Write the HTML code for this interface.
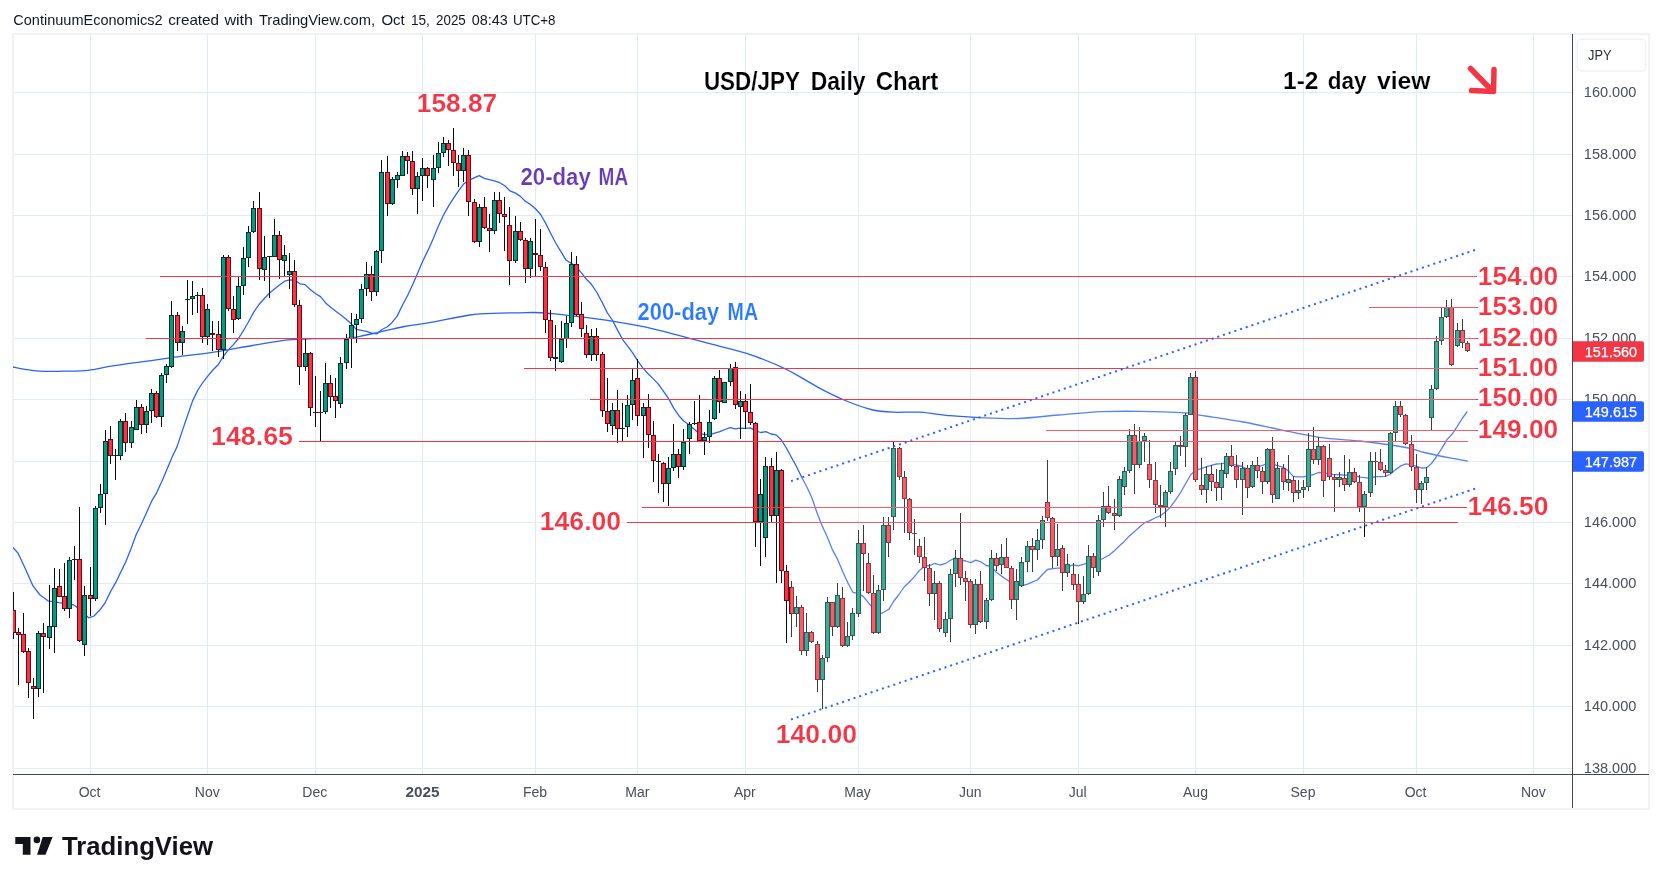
<!DOCTYPE html>
<html><head><meta charset="utf-8"><title>USD/JPY Daily Chart</title>
<style>
html,body{margin:0;padding:0;background:#fff;}
body{width:1662px;height:884px;position:relative;overflow:hidden;font-family:"Liberation Sans",sans-serif;}
svg{position:absolute;left:0;top:0;will-change:transform;}
text{font-family:"Liberation Sans",sans-serif;}
.ann{font-weight:bold;}
</style></head><body>
<svg width="1662" height="884" viewBox="0 0 1662 884">
<defs><clipPath id="pane"><rect x="13" y="34" width="1559" height="740"/></clipPath>
<clipPath id="axisclip"><rect x="1573" y="34" width="76" height="740"/></clipPath></defs>
<text x="13.3" y="24.8" font-size="14.6" fill="#131722" textLength="149.3" lengthAdjust="spacingAndGlyphs">ContinuumEconomics2</text>
<text x="168.2" y="24.8" font-size="14.6" fill="#131722" textLength="50.9" lengthAdjust="spacingAndGlyphs">created</text>
<text x="224.4" y="24.8" font-size="14.6" fill="#131722" textLength="28.6" lengthAdjust="spacingAndGlyphs">with</text>
<text x="258.9" y="24.8" font-size="14.6" fill="#131722" textLength="116.2" lengthAdjust="spacingAndGlyphs">TradingView.com,</text>
<text x="381.4" y="24.8" font-size="14.6" fill="#131722" textLength="23.3" lengthAdjust="spacingAndGlyphs">Oct</text>
<text x="411.0" y="24.8" font-size="14.6" fill="#131722" textLength="18.9" lengthAdjust="spacingAndGlyphs">15,</text>
<text x="436.1" y="24.8" font-size="14.6" fill="#131722" textLength="29.7" lengthAdjust="spacingAndGlyphs">2025</text>
<text x="471.7" y="24.8" font-size="14.6" fill="#131722" textLength="36.0" lengthAdjust="spacingAndGlyphs">08:43</text>
<text x="512.9" y="24.8" font-size="14.6" fill="#131722" textLength="42.6" lengthAdjust="spacingAndGlyphs">UTC+8</text>
<rect x="13" y="34" width="1636" height="775" fill="#fff" stroke="#f1f2f4" stroke-width="2"/>
<g stroke="#e1ebf3" stroke-width="1" shape-rendering="crispEdges">
<line x1="13" x2="1572" y1="768.5" y2="768.5"/>
<line x1="13" x2="1572" y1="706.5" y2="706.5"/>
<line x1="13" x2="1572" y1="645.5" y2="645.5"/>
<line x1="13" x2="1572" y1="583.5" y2="583.5"/>
<line x1="13" x2="1572" y1="522.5" y2="522.5"/>
<line x1="13" x2="1572" y1="461.5" y2="461.5"/>
<line x1="13" x2="1572" y1="399.5" y2="399.5"/>
<line x1="13" x2="1572" y1="338.5" y2="338.5"/>
<line x1="13" x2="1572" y1="276.5" y2="276.5"/>
<line x1="13" x2="1572" y1="215.5" y2="215.5"/>
<line x1="13" x2="1572" y1="154.5" y2="154.5"/>
<line x1="13" x2="1572" y1="92.5" y2="92.5"/>
<line x1="90.5" x2="90.5" y1="34" y2="774"/>
<line x1="207.5" x2="207.5" y1="34" y2="774"/>
<line x1="315.5" x2="315.5" y1="34" y2="774"/>
<line x1="422.5" x2="422.5" y1="34" y2="774"/>
<line x1="535.5" x2="535.5" y1="34" y2="774"/>
<line x1="637.5" x2="637.5" y1="34" y2="774"/>
<line x1="745.5" x2="745.5" y1="34" y2="774"/>
<line x1="858.5" x2="858.5" y1="34" y2="774"/>
<line x1="970.5" x2="970.5" y1="34" y2="774"/>
<line x1="1078.5" x2="1078.5" y1="34" y2="774"/>
<line x1="1195.5" x2="1195.5" y1="34" y2="774"/>
<line x1="1303.5" x2="1303.5" y1="34" y2="774"/>
<line x1="1416.5" x2="1416.5" y1="34" y2="774"/>
<line x1="1533.5" x2="1533.5" y1="34" y2="774"/>
</g>
<g clip-path="url(#pane)">
<path d="M13.0 367.0 C15.0 367.4 20.0 368.6 25.0 369.3 C30.0 370.0 36.2 371.0 42.9 371.3 C49.6 371.6 57.4 371.4 65.0 371.2 C72.6 371.0 80.6 371.1 88.3 370.3 C96.0 369.5 102.2 367.6 111.0 366.2 C119.8 364.8 131.3 363.3 141.4 361.9 C151.5 360.5 159.9 359.2 171.7 357.6 C183.5 356.0 198.7 354.3 212.2 352.3 C225.7 350.3 240.0 347.6 252.6 345.5 C265.2 343.4 277.9 341.0 288.0 339.9 C298.1 338.8 303.6 338.9 313.3 338.7 C323.0 338.4 338.3 338.8 346.1 338.4 C353.9 338.0 354.9 337.2 360.0 336.3 C365.1 335.4 369.0 334.5 376.4 332.9 C383.8 331.3 395.3 328.2 404.2 326.5 C413.1 324.8 418.5 324.6 429.5 322.7 C440.5 320.8 458.2 316.6 470.0 315.0 C481.8 313.4 491.7 313.6 500.0 313.2 C508.3 312.8 514.4 312.9 520.0 312.8 C525.6 312.7 528.4 312.4 533.4 312.5 C538.4 312.6 543.6 312.9 550.0 313.5 C556.4 314.1 561.2 314.5 571.5 315.8 C581.8 317.1 598.4 319.0 612.0 321.2 C625.6 323.4 638.9 325.6 653.0 328.8 C667.1 332.0 683.6 336.9 696.4 340.2 C709.2 343.5 720.4 346.3 730.0 348.9 C739.6 351.5 744.4 352.4 753.8 355.8 C763.2 359.2 775.4 364.0 786.4 369.4 C797.4 374.8 810.4 383.3 820.0 388.4 C829.6 393.5 835.5 396.5 844.0 400.0 C852.5 403.5 862.8 407.5 871.0 409.5 C879.2 411.5 884.8 411.8 893.0 412.2 C901.2 412.6 910.5 411.6 920.0 412.2 C929.5 412.8 940.0 414.8 950.0 415.7 C960.0 416.6 968.7 417.1 980.0 417.6 C991.3 418.1 1004.9 418.9 1018.0 418.5 C1031.1 418.1 1044.6 416.1 1058.6 415.0 C1072.6 413.9 1088.4 412.3 1102.0 411.7 C1115.6 411.1 1125.3 411.1 1140.0 411.4 C1154.7 411.6 1180.5 412.7 1190.0 413.2 C1199.5 413.7 1188.1 413.1 1197.0 414.6 C1205.9 416.1 1229.7 419.6 1243.3 422.0 C1256.9 424.4 1265.9 426.7 1278.6 429.3 C1291.3 431.9 1305.7 435.4 1319.3 437.4 C1332.9 439.3 1348.7 439.8 1360.0 441.0 C1371.3 442.2 1378.9 443.3 1387.2 444.5 C1395.5 445.7 1403.8 447.0 1410.0 448.3 C1416.2 449.6 1417.4 450.9 1424.3 452.5 C1431.2 454.1 1444.3 456.8 1451.5 458.2 C1458.7 459.6 1465.0 460.5 1467.7 461.0" fill="none" stroke="#2962ff" stroke-width="1.3"/>
<path d="M12.7 547.3 L18.1 553.3 L25.0 568.0 L33.0 585.9 L40.0 595.0 L48.0 600.8 L58.9 602.7 L73.8 604.9 L82.0 611.0 L88.7 617.9 L94.0 616.0 L99.6 610.3 L105.0 603.0 L110.5 591.6 L115.7 582.7 L120.8 572.0 L125.9 561.6 L131.0 548.8 L136.1 534.8 L141.3 524.3 L146.4 513.0 L151.5 501.4 L156.6 492.8 L161.7 481.7 L166.9 469.6 L172.0 457.3 L177.1 446.6 L182.2 431.1 L187.3 416.3 L192.5 401.1 L197.6 390.5 L202.7 382.7 L207.8 376.1 L212.9 370.0 L218.1 364.8 L223.2 356.6 L228.3 349.9 L233.4 344.6 L238.5 338.5 L243.7 330.2 L248.8 321.2 L253.9 311.9 L259.0 304.5 L264.1 298.7 L269.3 293.2 L274.4 289.1 L279.5 285.0 L284.6 281.2 L289.7 279.8 L294.9 280.2 L300.0 283.8 L305.1 284.6 L310.2 289.5 L315.3 293.5 L320.5 296.6 L325.6 302.9 L330.7 307.2 L335.8 311.3 L340.9 315.1 L346.1 319.2 L351.2 323.8 L356.3 329.4 L361.4 330.4 L366.5 331.3 L371.7 333.1 L376.8 333.9 L381.9 329.5 L387.0 327.0 L392.1 322.4 L397.3 315.9 L402.4 305.3 L407.5 295.7 L412.6 284.8 L417.7 272.9 L422.9 260.7 L428.0 250.4 L433.1 238.9 L438.2 226.5 L443.3 215.5 L448.5 206.1 L453.6 198.1 L458.7 190.6 L463.8 183.9 L468.9 180.3 L474.1 177.8 L479.2 175.6 L484.3 178.4 L489.4 179.7 L494.5 180.8 L499.7 182.7 L504.8 185.8 L509.9 190.8 L515.0 192.9 L520.1 196.1 L525.3 201.2 L530.4 204.4 L535.5 208.8 L540.6 214.5 L545.7 223.4 L550.9 233.8 L556.0 243.5 L561.1 251.9 L566.2 260.3 L571.3 263.4 L576.5 267.1 L581.6 273.2 L586.7 279.5 L591.8 284.8 L596.9 292.5 L602.1 302.3 L607.2 312.6 L612.3 320.0 L617.4 329.9 L622.5 339.3 L627.7 346.2 L632.8 353.1 L637.9 361.1 L643.0 368.1 L648.1 373.8 L653.3 378.9 L658.4 384.1 L663.5 391.4 L668.6 398.6 L673.7 408.1 L678.9 415.7 L684.0 421.3 L689.1 424.8 L694.2 429.2 L699.3 433.4 L704.5 434.7 L709.6 434.6 L714.7 433.1 L719.8 431.7 L724.9 429.5 L730.1 427.6 L735.2 428.8 L740.3 428.1 L745.4 428.4 L750.5 427.9 L755.7 430.9 L760.8 432.5 L765.9 431.7 L771.0 434.0 L776.1 434.9 L781.3 440.0 L786.4 448.0 L791.5 457.5 L796.6 466.7 L801.7 477.2 L806.9 487.0 L812.0 498.0 L817.1 513.1 L822.2 525.9 L827.3 536.9 L832.5 549.9 L837.6 559.4 L842.7 571.6 L847.8 582.8 L852.9 592.3 L858.1 593.4 L863.2 596.4 L868.3 602.7 L873.4 608.6 L878.5 614.5 L883.7 612.3 L888.8 609.3 L893.9 601.0 L899.0 594.5 L904.1 587.0 L909.3 582.0 L914.4 576.6 L919.5 570.4 L924.6 565.9 L929.7 565.5 L934.9 563.3 L940.0 565.0 L945.1 563.7 L950.2 560.5 L955.3 557.8 L960.5 559.6 L965.6 561.0 L970.7 562.6 L975.8 560.1 L980.9 561.8 L986.1 565.5 L991.2 566.3 L996.3 572.2 L1001.4 576.1 L1006.5 579.5 L1011.7 582.9 L1016.8 585.2 L1021.9 585.5 L1027.0 584.4 L1032.1 582.1 L1037.3 580.0 L1042.4 574.5 L1047.5 569.5 L1052.6 568.6 L1057.7 568.1 L1062.9 567.9 L1068.0 566.9 L1073.1 564.9 L1078.2 565.8 L1083.3 564.4 L1088.5 562.3 L1093.6 562.8 L1098.7 560.5 L1103.8 558.0 L1108.9 555.3 L1114.1 551.1 L1119.2 546.0 L1124.3 541.4 L1129.4 535.9 L1134.5 531.6 L1139.7 526.7 L1144.8 522.5 L1149.9 520.6 L1155.0 518.0 L1160.1 515.9 L1165.3 511.9 L1170.4 507.2 L1175.5 500.2 L1180.6 492.5 L1185.7 483.5 L1190.9 474.5 L1196.0 470.1 L1201.1 468.6 L1206.2 466.9 L1211.3 465.4 L1216.5 464.0 L1221.6 463.6 L1226.7 462.8 L1231.8 464.4 L1236.9 465.1 L1242.1 466.5 L1247.2 469.1 L1252.3 468.3 L1257.4 466.7 L1262.5 465.4 L1267.7 463.3 L1272.8 464.5 L1277.9 465.7 L1283.0 467.4 L1288.1 470.6 L1293.3 476.4 L1298.4 476.9 L1303.5 476.8 L1308.6 475.6 L1313.7 474.5 L1318.9 472.4 L1324.0 472.9 L1329.1 473.9 L1334.2 474.7 L1339.3 474.5 L1344.5 475.3 L1349.6 474.5 L1354.7 475.3 L1359.8 477.1 L1364.9 477.7 L1370.1 478.3 L1375.2 476.7 L1380.3 476.7 L1385.4 476.3 L1390.5 474.0 L1395.7 469.6 L1400.8 465.9 L1405.9 463.8 L1411.0 464.7 L1416.1 466.2 L1421.3 468.0 L1426.4 467.9 L1431.5 463.5 L1436.6 456.5 L1441.7 448.6 L1446.9 439.6 L1452.0 434.3 L1457.1 426.7 L1462.2 418.5 L1467.3 411.4" fill="none" stroke="#2962ff" stroke-width="1.3" stroke-linejoin="round"/>
<path d="M13.5 592 V639M18.5 628 V685M23.5 613 V653M28.5 648 V698M33.5 678 V719M38.5 631 V697M43.5 623 V693M49.5 585 V649M54.5 568 V653M59.5 569 V597M64.5 563 V611M69.5 557 V618M74.5 546 V580M79.5 507 V642M84.5 586 V656M90.5 567 V616M95.5 506 V601M100.5 484 V513M105.5 430 V525M110.5 426 V464M115.5 449 V480M120.5 419 V460M125.5 413 V452M131.5 421 V448M136.5 400 V430M141.5 404 V434M146.5 406 V433M151.5 389 V423M156.5 391 V418M161.5 373 V427M166.5 364 V383M171.5 301 V368M177.5 312 V351M182.5 326 V355M187.5 280 V324M192.5 281 V315M197.5 292 V313M202.5 288 V343M207.5 304 V345M212.5 321 V351M218.5 321 V357M223.5 255 V359M228.5 255 V311M233.5 296 V333M238.5 277 V320M243.5 247 V295M248.5 226 V267M253.5 201 V233M259.5 192 V280M264.5 236 V281M269.5 256 V298M274.5 219 V257M279.5 231 V279M284.5 245 V277M289.5 253 V289M294.5 260 V307M299.5 300 V385M305.5 339 V371M310.5 352 V416M315.5 376 V427M320.5 391 V441M325.5 363 V414M330.5 375 V408M335.5 378 V418M340.5 357 V408M346.5 334 V369M351.5 313 V368M356.5 314 V343M361.5 284 V323M366.5 262 V296M371.5 266 V301M376.5 250 V296M381.5 160 V263M387.5 156 V216M392.5 177 V205M397.5 172 V188M402.5 151 V176M407.5 152 V174M412.5 151 V195M417.5 172 V214M422.5 158 V201M427.5 167 V188M433.5 155 V207M438.5 142 V173M443.5 137 V157M448.5 140 V166M453.5 128 V176M458.5 155 V187M463.5 148 V182M468.5 150 V216M474.5 199 V243M479.5 204 V247M484.5 197 V229M489.5 214 V252M494.5 192 V234M499.5 192 V223M504.5 197 V251M509.5 207 V285M515.5 216 V263M520.5 222 V241M525.5 238 V283M530.5 238 V278M535.5 219 V276M540.5 229 V271M545.5 262 V333M550.5 310 V361M555.5 325 V371M561.5 321 V363M566.5 316 V348M571.5 252 V327M576.5 256 V316M581.5 302 V337M586.5 325 V358M591.5 329 V361M596.5 328 V361M602.5 352 V417M607.5 378 V432M612.5 403 V435M617.5 390 V443M622.5 403 V441M627.5 395 V437M632.5 369 V420M637.5 359 V426M643.5 403 V458M648.5 394 V448M653.5 421 V482M658.5 454 V493M663.5 462 V502M668.5 457 V506M673.5 424 V471M678.5 449 V478M683.5 429 V470M689.5 422 V454M694.5 401 V425M699.5 395 V441M704.5 432 V455M709.5 410 V443M714.5 376 V420M719.5 370 V413M724.5 382 V403M730.5 364 V386M735.5 362 V409M740.5 391 V439M745.5 394 V429M750.5 384 V425M755.5 422 V547M760.5 479 V566M765.5 457 V557M771.5 458 V522M776.5 452 V583M781.5 469 V583M786.5 565 V643M791.5 581 V637M796.5 596 V627M801.5 605 V655M806.5 613 V656M811.5 631 V643M817.5 641 V692M822.5 655 V709M827.5 597 V662M832.5 602 V636M837.5 583 V628M842.5 587 V647M847.5 622 V647M852.5 608 V640M858.5 530 V617M863.5 525 V591M868.5 553 V594M873.5 575 V634M878.5 585 V634M883.5 517 V601M888.5 517 V557M893.5 442 V530M899.5 447 V480M904.5 471 V533M909.5 498 V540M914.5 519 V555M919.5 539 V563M924.5 537 V581M929.5 564 V606M934.5 571 V620M939.5 581 V632M945.5 612 V637M950.5 569 V642M955.5 550 V587M960.5 513 V585M965.5 571 V601M970.5 579 V628M975.5 579 V634M980.5 571 V623M986.5 598 V629M991.5 550 V601M996.5 553 V571M1001.5 544 V574M1006.5 538 V568M1011.5 566 V609M1016.5 569 V620M1021.5 557 V587M1027.5 541 V572M1032.5 538 V572M1037.5 529 V560M1042.5 516 V549M1047.5 460 V521M1052.5 517 V568M1057.5 524 V566M1062.5 545 V591M1067.5 554 V577M1073.5 563 V590M1078.5 574 V624M1083.5 576 V604M1088.5 545 V595M1093.5 553 V578M1098.5 515 V576M1103.5 492 V527M1108.5 486 V514M1114.5 499 V530M1119.5 476 V517M1124.5 467 V495M1129.5 429 V473M1134.5 424 V494M1139.5 427 V468M1144.5 433 V462M1149.5 440 V488M1155.5 462 V513M1160.5 485 V518M1165.5 490 V527M1170.5 462 V494M1175.5 442 V475M1180.5 436 V456M1185.5 413 V467M1190.5 373 V415M1195.5 371 V482M1201.5 458 V495M1206.5 466 V503M1211.5 465 V491M1216.5 469 V501M1221.5 463 V500M1226.5 453 V478M1231.5 445 V467M1236.5 455 V488M1242.5 462 V515M1247.5 465 V498M1252.5 461 V488M1257.5 457 V478M1262.5 467 V494M1267.5 448 V484M1272.5 437 V503M1277.5 462 V499M1283.5 464 V490M1288.5 455 V491M1293.5 476 V502M1298.5 480 V499M1303.5 480 V498M1308.5 433 V491M1313.5 427 V464M1318.5 437 V465M1323.5 445 V497M1329.5 444 V480M1334.5 474 V512M1339.5 472 V487M1344.5 455 V491M1349.5 459 V487M1354.5 468 V483M1359.5 475 V512M1364.5 491 V537M1370.5 452 V497M1375.5 452 V485M1380.5 449 V471M1385.5 465 V477M1390.5 432 V474M1395.5 401 V442M1400.5 401 V417M1405.5 414 V445M1411.5 435 V471M1416.5 454 V503M1421.5 481 V504M1426.5 467 V490M1431.5 385 V430M1436.5 336 V390M1441.5 307 V345M1446.5 300 V318M1451.5 299 V366M1457.5 323 V347M1462.5 319 V348M1467.5 341 V352" stroke="#0a0a0a" stroke-width="1" fill="none" shape-rendering="crispEdges"/>
<path d="M36 633h5v56h-5zM47 626h5v12h-5zM52 588h5v39h-5zM67 560h5v49h-5zM72 559h5v1h-5zM82 595h5v50h-5zM93 508h5v91h-5zM98 494h5v14h-5zM103 441h5v53h-5zM113 455h5v1h-5zM118 421h5v35h-5zM129 427h5v16h-5zM134 407h5v23h-5zM144 411h5v14h-5zM149 393h5v18h-5zM159 375h5v42h-5zM164 366h5v9h-5zM169 315h5v52h-5zM180 331h5v12h-5zM185 299h5v1h-5zM190 296h5v3h-5zM195 295h5v1h-5zM205 309h5v28h-5zM221 257h5v93h-5zM236 286h5v33h-5zM241 258h5v28h-5zM246 232h5v26h-5zM251 208h5v24h-5zM262 257h5v13h-5zM267 256h5v1h-5zM272 235h5v22h-5zM282 255h5v6h-5zM287 271h5v4h-5zM303 353h5v14h-5zM323 383h5v29h-5zM338 363h5v41h-5zM344 339h5v24h-5zM349 325h5v14h-5zM354 319h5v6h-5zM359 289h5v30h-5zM364 274h5v15h-5zM374 251h5v41h-5zM379 172h5v79h-5zM390 179h5v25h-5zM395 175h5v5h-5zM400 156h5v20h-5zM415 176h5v13h-5zM420 168h5v8h-5zM431 168h5v12h-5zM436 153h5v15h-5zM441 143h5v10h-5zM461 155h5v16h-5zM477 207h5v35h-5zM492 200h5v31h-5zM513 231h5v30h-5zM528 241h5v28h-5zM553 357h5v2h-5zM559 339h5v23h-5zM564 323h5v16h-5zM569 264h5v59h-5zM589 336h5v19h-5zM610 410h5v16h-5zM620 428h5v1h-5zM625 405h5v22h-5zM630 380h5v25h-5zM641 407h5v9h-5zM656 461h5v1h-5zM666 468h5v16h-5zM671 454h5v14h-5zM681 442h5v25h-5zM687 424h5v15h-5zM692 423h5v1h-5zM702 437h5v4h-5zM707 422h5v15h-5zM712 378h5v41h-5zM722 382h5v21h-5zM728 368h5v14h-5zM738 401h5v6h-5zM758 494h5v28h-5zM763 466h5v72h-5zM774 470h5v46h-5zM794 607h5v7h-5zM804 632h5v19h-5zM820 658h5v22h-5zM825 602h5v56h-5zM835 595h5v32h-5zM845 636h5v10h-5zM850 613h5v23h-5zM856 543h5v71h-5zM876 590h5v43h-5zM881 525h5v65h-5zM891 448h5v69h-5zM932 583h5v11h-5zM943 619h5v14h-5zM948 574h5v45h-5zM953 558h5v16h-5zM973 584h5v41h-5zM984 600h5v22h-5zM989 558h5v42h-5zM999 557h5v8h-5zM1014 581h5v19h-5zM1019 562h5v24h-5zM1025 546h5v16h-5zM1035 540h5v10h-5zM1040 520h5v20h-5zM1055 549h5v8h-5zM1065 564h5v9h-5zM1081 594h5v8h-5zM1086 556h5v38h-5zM1096 520h5v52h-5zM1101 506h5v14h-5zM1117 479h5v37h-5zM1122 471h5v16h-5zM1127 435h5v36h-5zM1137 441h5v24h-5zM1142 436h5v5h-5zM1163 492h5v15h-5zM1168 471h5v21h-5zM1173 445h5v24h-5zM1183 415h5v32h-5zM1188 377h5v38h-5zM1204 474h5v16h-5zM1219 470h5v18h-5zM1224 456h5v18h-5zM1240 468h5v12h-5zM1250 465h5v22h-5zM1265 449h5v33h-5zM1275 468h5v31h-5zM1286 479h5v4h-5zM1296 490h5v3h-5zM1301 487h5v3h-5zM1306 449h5v38h-5zM1316 446h5v14h-5zM1337 477h5v3h-5zM1347 472h5v13h-5zM1362 494h5v13h-5zM1368 461h5v32h-5zM1388 433h5v40h-5zM1393 406h5v27h-5zM1419 483h5v7h-5zM1424 477h5v6h-5zM1429 389h5v29h-5zM1434 341h5v48h-5zM1439 317h5v24h-5zM1444 307h5v10h-5zM1455 330h5v16h-5z" fill="#03302a" shape-rendering="crispEdges"/>
<path d="M11 610h5v23h-5zM16 632h5v3h-5zM21 634h5v18h-5zM26 651h5v32h-5zM31 686h5v3h-5zM41 633h5v4h-5zM57 586h5v11h-5zM62 596h5v13h-5zM77 559h5v82h-5zM88 595h5v4h-5zM108 439h5v17h-5zM123 421h5v22h-5zM139 407h5v18h-5zM154 393h5v24h-5zM175 315h5v28h-5zM200 295h5v42h-5zM210 333h5v2h-5zM216 334h5v16h-5zM226 257h5v52h-5zM231 309h5v11h-5zM257 208h5v61h-5zM277 235h5v25h-5zM292 271h5v34h-5zM297 305h5v62h-5zM308 353h5v55h-5zM313 412h5v1h-5zM318 412h5v1h-5zM328 383h5v14h-5zM333 396h5v5h-5zM369 274h5v18h-5zM385 172h5v32h-5zM405 156h5v5h-5zM410 161h5v28h-5zM425 168h5v8h-5zM446 143h5v7h-5zM451 150h5v13h-5zM456 163h5v8h-5zM466 155h5v47h-5zM472 202h5v40h-5zM482 207h5v21h-5zM487 228h5v3h-5zM497 200h5v14h-5zM502 214h5v3h-5zM507 225h5v36h-5zM518 231h5v9h-5zM523 240h5v29h-5zM533 253h5v2h-5zM538 255h5v12h-5zM543 267h5v53h-5zM548 320h5v38h-5zM574 264h5v51h-5zM579 314h5v15h-5zM584 333h5v22h-5zM594 336h5v19h-5zM600 354h5v57h-5zM605 411h5v13h-5zM615 410h5v19h-5zM635 378h5v38h-5zM646 407h5v28h-5zM651 435h5v26h-5zM661 463h5v21h-5zM676 454h5v13h-5zM697 422h5v19h-5zM717 378h5v24h-5zM733 367h5v38h-5zM743 401h5v11h-5zM748 412h5v11h-5zM753 423h5v99h-5zM769 466h5v50h-5zM779 470h5v101h-5zM784 571h5v30h-5zM789 587h5v27h-5zM799 607h5v44h-5zM809 632h5v10h-5zM815 644h5v36h-5zM830 602h5v25h-5zM840 598h5v48h-5zM861 543h5v11h-5zM866 563h5v30h-5zM871 593h5v40h-5zM886 525h5v18h-5zM897 448h5v29h-5zM902 477h5v22h-5zM907 499h5v34h-5zM912 533h5v1h-5zM917 546h5v11h-5zM922 557h5v11h-5zM927 568h5v26h-5zM937 583h5v46h-5zM958 558h5v20h-5zM963 578h5v4h-5zM968 581h5v44h-5zM978 584h5v38h-5zM994 558h5v8h-5zM1004 557h5v11h-5zM1009 568h5v32h-5zM1030 546h5v4h-5zM1045 502h5v16h-5zM1050 518h5v39h-5zM1060 548h5v25h-5zM1071 574h5v11h-5zM1076 584h5v18h-5zM1091 556h5v12h-5zM1106 506h5v7h-5zM1112 513h5v3h-5zM1132 435h5v30h-5zM1147 464h5v16h-5zM1153 480h5v25h-5zM1158 505h5v2h-5zM1178 445h5v2h-5zM1193 377h5v103h-5zM1199 485h5v5h-5zM1209 474h5v8h-5zM1214 482h5v6h-5zM1229 456h5v10h-5zM1234 466h5v14h-5zM1245 468h5v20h-5zM1255 465h5v6h-5zM1260 471h5v11h-5zM1270 449h5v46h-5zM1281 468h5v14h-5zM1291 480h5v13h-5zM1311 449h5v11h-5zM1321 446h5v35h-5zM1327 458h5v19h-5zM1332 477h5v3h-5zM1342 478h5v7h-5zM1352 472h5v10h-5zM1357 482h5v25h-5zM1373 461h5v1h-5zM1378 462h5v8h-5zM1383 470h5v3h-5zM1398 406h5v9h-5zM1403 415h5v29h-5zM1409 444h5v23h-5zM1414 467h5v23h-5zM1449 307h5v58h-5zM1460 330h5v13h-5zM1465 343h5v8h-5z" fill="#6e0914" shape-rendering="crispEdges"/>
<path d="M37 634h3v54h-3zM48 627h3v10h-3zM53 589h3v37h-3zM68 561h3v47h-3zM83 596h3v48h-3zM94 509h3v89h-3zM99 495h3v12h-3zM104 442h3v51h-3zM119 422h3v33h-3zM130 428h3v14h-3zM135 408h3v21h-3zM145 412h3v12h-3zM150 394h3v16h-3zM160 376h3v40h-3zM165 367h3v7h-3zM170 316h3v50h-3zM181 332h3v10h-3zM191 297h3v1h-3zM206 310h3v26h-3zM222 258h3v91h-3zM237 287h3v31h-3zM242 259h3v26h-3zM247 233h3v24h-3zM252 209h3v22h-3zM263 258h3v11h-3zM273 236h3v20h-3zM283 256h3v4h-3zM288 272h3v2h-3zM304 354h3v12h-3zM324 384h3v27h-3zM339 364h3v39h-3zM345 340h3v22h-3zM350 326h3v12h-3zM355 320h3v4h-3zM360 290h3v28h-3zM365 275h3v13h-3zM375 252h3v39h-3zM380 173h3v77h-3zM391 180h3v23h-3zM396 176h3v3h-3zM401 157h3v18h-3zM416 177h3v11h-3zM421 169h3v6h-3zM432 169h3v10h-3zM437 154h3v13h-3zM442 144h3v8h-3zM462 156h3v14h-3zM478 208h3v33h-3zM493 201h3v29h-3zM514 232h3v28h-3zM529 242h3v26h-3zM560 340h3v21h-3zM565 324h3v14h-3zM570 265h3v57h-3zM590 337h3v17h-3zM611 411h3v14h-3zM626 406h3v20h-3zM631 381h3v23h-3zM642 408h3v7h-3zM667 469h3v14h-3zM672 455h3v12h-3zM682 443h3v23h-3zM688 425h3v13h-3zM703 438h3v2h-3zM708 423h3v13h-3zM713 379h3v39h-3zM723 383h3v19h-3zM729 369h3v12h-3zM739 402h3v4h-3zM759 495h3v26h-3zM764 467h3v70h-3zM775 471h3v44h-3zM795 608h3v5h-3zM805 633h3v17h-3zM821 659h3v20h-3zM826 603h3v54h-3zM836 596h3v30h-3zM846 637h3v8h-3zM851 614h3v21h-3zM857 544h3v69h-3zM877 591h3v41h-3zM882 526h3v63h-3zM892 449h3v67h-3zM933 584h3v9h-3zM944 620h3v12h-3zM949 575h3v43h-3zM954 559h3v14h-3zM974 585h3v39h-3zM985 601h3v20h-3zM990 559h3v40h-3zM1000 558h3v6h-3zM1015 582h3v17h-3zM1020 563h3v22h-3zM1026 547h3v14h-3zM1036 541h3v8h-3zM1041 521h3v18h-3zM1056 550h3v6h-3zM1066 565h3v7h-3zM1082 595h3v6h-3zM1087 557h3v36h-3zM1097 521h3v50h-3zM1102 507h3v12h-3zM1118 480h3v35h-3zM1123 472h3v14h-3zM1128 436h3v34h-3zM1138 442h3v22h-3zM1143 437h3v3h-3zM1164 493h3v13h-3zM1169 472h3v19h-3zM1174 446h3v22h-3zM1184 416h3v30h-3zM1189 378h3v36h-3zM1205 475h3v14h-3zM1220 471h3v16h-3zM1225 457h3v16h-3zM1241 469h3v10h-3zM1251 466h3v20h-3zM1266 450h3v31h-3zM1276 469h3v29h-3zM1287 480h3v2h-3zM1297 491h3v1h-3zM1302 488h3v1h-3zM1307 450h3v36h-3zM1317 447h3v12h-3zM1338 478h3v1h-3zM1348 473h3v11h-3zM1363 495h3v11h-3zM1369 462h3v30h-3zM1389 434h3v38h-3zM1394 407h3v25h-3zM1420 484h3v5h-3zM1425 478h3v4h-3zM1430 390h3v27h-3zM1435 342h3v46h-3zM1440 318h3v22h-3zM1445 308h3v8h-3zM1456 331h3v14h-3z" fill="#089981" shape-rendering="crispEdges"/>
<path d="M12 611h3v21h-3zM17 633h3v1h-3zM22 635h3v16h-3zM27 652h3v30h-3zM32 687h3v1h-3zM42 634h3v2h-3zM58 587h3v9h-3zM63 597h3v11h-3zM78 560h3v80h-3zM89 596h3v2h-3zM109 440h3v15h-3zM124 422h3v20h-3zM140 408h3v16h-3zM155 394h3v22h-3zM176 316h3v26h-3zM201 296h3v40h-3zM217 335h3v14h-3zM227 258h3v50h-3zM232 310h3v9h-3zM258 209h3v59h-3zM278 236h3v23h-3zM293 272h3v32h-3zM298 306h3v60h-3zM309 354h3v53h-3zM329 384h3v12h-3zM334 397h3v3h-3zM370 275h3v16h-3zM386 173h3v30h-3zM406 157h3v3h-3zM411 162h3v26h-3zM426 169h3v6h-3zM447 144h3v5h-3zM452 151h3v11h-3zM457 164h3v6h-3zM467 156h3v45h-3zM473 203h3v38h-3zM483 208h3v19h-3zM488 229h3v1h-3zM498 201h3v12h-3zM503 215h3v1h-3zM508 226h3v34h-3zM519 232h3v7h-3zM524 241h3v27h-3zM539 256h3v10h-3zM544 268h3v51h-3zM549 321h3v36h-3zM575 265h3v49h-3zM580 315h3v13h-3zM585 334h3v20h-3zM595 337h3v17h-3zM601 355h3v55h-3zM606 412h3v11h-3zM616 411h3v17h-3zM636 379h3v36h-3zM647 408h3v26h-3zM652 436h3v24h-3zM662 464h3v19h-3zM677 455h3v11h-3zM698 423h3v17h-3zM718 379h3v22h-3zM734 368h3v36h-3zM744 402h3v9h-3zM749 413h3v9h-3zM754 424h3v97h-3zM770 467h3v48h-3zM780 471h3v99h-3zM785 572h3v28h-3zM790 588h3v25h-3zM800 608h3v42h-3zM810 633h3v8h-3zM816 645h3v34h-3zM831 603h3v23h-3zM841 599h3v46h-3zM862 544h3v9h-3zM867 564h3v28h-3zM872 594h3v38h-3zM887 526h3v16h-3zM898 449h3v27h-3zM903 478h3v20h-3zM908 500h3v32h-3zM918 547h3v9h-3zM923 558h3v9h-3zM928 569h3v24h-3zM938 584h3v44h-3zM959 559h3v18h-3zM964 579h3v2h-3zM969 582h3v42h-3zM979 585h3v36h-3zM995 559h3v6h-3zM1005 558h3v9h-3zM1010 569h3v30h-3zM1031 547h3v2h-3zM1046 503h3v14h-3zM1051 519h3v37h-3zM1061 549h3v23h-3zM1072 575h3v9h-3zM1077 585h3v16h-3zM1092 557h3v10h-3zM1107 507h3v5h-3zM1113 514h3v1h-3zM1133 436h3v28h-3zM1148 465h3v14h-3zM1154 481h3v23h-3zM1194 378h3v101h-3zM1200 486h3v3h-3zM1210 475h3v6h-3zM1215 483h3v4h-3zM1230 457h3v8h-3zM1235 467h3v12h-3zM1246 469h3v18h-3zM1256 466h3v4h-3zM1261 472h3v9h-3zM1271 450h3v44h-3zM1282 469h3v12h-3zM1292 481h3v11h-3zM1312 450h3v9h-3zM1322 447h3v33h-3zM1328 459h3v17h-3zM1333 478h3v1h-3zM1343 479h3v5h-3zM1353 473h3v8h-3zM1358 483h3v23h-3zM1379 463h3v6h-3zM1384 471h3v1h-3zM1399 407h3v7h-3zM1404 416h3v27h-3zM1410 445h3v21h-3zM1415 468h3v21h-3zM1450 308h3v56h-3zM1461 331h3v11h-3zM1466 344h3v6h-3z" fill="#f23645" shape-rendering="crispEdges"/>
<g stroke="#f23645" stroke-width="1" shape-rendering="crispEdges">
<line x1="160" x2="1477" y1="276.5" y2="276.5"/>
<line x1="1369" x2="1478" y1="307.5" y2="307.5"/>
<line x1="146" x2="1478" y1="338.5" y2="338.5"/>
<line x1="524" x2="1478" y1="368.5" y2="368.5"/>
<line x1="590" x2="1478" y1="399.5" y2="399.5"/>
<line x1="1046" x2="1478" y1="430.5" y2="430.5"/>
<line x1="299" x2="1468" y1="441.5" y2="441.5"/>
<line x1="642" x2="1467" y1="507.5" y2="507.5"/>
<line x1="627" x2="1458" y1="522.5" y2="522.5"/>
</g>
<polygon points="791,481.1 1476,249.6 1476,488.3 791,719.5" fill="#fff" fill-opacity="0.2"/>
<g stroke="#2962ff" stroke-width="2" stroke-dasharray="2 4" fill="none">
<line x1="791" y1="481.1" x2="1477" y2="249.3"/>
<line x1="791" y1="719.5" x2="1477" y2="488"/>
</g>
</g>
<text x="703.9" y="89.9" font-size="25.9" font-weight="bold" fill="#000" text-anchor="start" stroke="#fff" stroke-width="0.18" textLength="96.0" lengthAdjust="spacingAndGlyphs">USD/JPY</text>
<text x="810.8" y="89.9" font-size="25.9" font-weight="bold" fill="#000" text-anchor="start" stroke="#fff" stroke-width="0.18" textLength="54.8" lengthAdjust="spacingAndGlyphs">Daily</text>
<text x="875.7" y="89.9" font-size="25.9" font-weight="bold" fill="#000" text-anchor="start" stroke="#fff" stroke-width="0.18" textLength="62.5" lengthAdjust="spacingAndGlyphs">Chart</text>
<text x="1283.1" y="88.60000000000001" font-size="24.7" font-weight="bold" fill="#000" text-anchor="start" stroke="#fff" stroke-width="0.18" textLength="35.4" lengthAdjust="spacingAndGlyphs">1-2</text>
<text x="1327.7" y="88.60000000000001" font-size="24.7" font-weight="bold" fill="#000" text-anchor="start" stroke="#fff" stroke-width="0.18" textLength="38.8" lengthAdjust="spacingAndGlyphs">day</text>
<text x="1377" y="88.60000000000001" font-size="24.7" font-weight="bold" fill="#000" text-anchor="start" stroke="#fff" stroke-width="0.18" textLength="53.5" lengthAdjust="spacingAndGlyphs">view</text>
<text x="416.8" y="112.0" font-size="25.4" font-weight="bold" fill="#f23645" text-anchor="start" stroke="#fff" stroke-width="0.18" textLength="80.3" lengthAdjust="spacingAndGlyphs">158.87</text>
<text x="520.5" y="184.5" font-size="23.7" font-weight="bold" fill="#673ab7" text-anchor="start" stroke="#fff" stroke-width="0.18" textLength="70.3" lengthAdjust="spacingAndGlyphs">20-day</text>
<text x="598.6" y="184.5" font-size="23.7" font-weight="bold" fill="#673ab7" text-anchor="start" stroke="#fff" stroke-width="0.18" textLength="29.5" lengthAdjust="spacingAndGlyphs">MA</text>
<text x="637.6" y="320.09999999999997" font-size="23.7" font-weight="bold" fill="#2979ff" text-anchor="start" stroke="#fff" stroke-width="0.18" textLength="81.5" lengthAdjust="spacingAndGlyphs">200-day</text>
<text x="727.6" y="320.09999999999997" font-size="23.7" font-weight="bold" fill="#2979ff" text-anchor="start" stroke="#fff" stroke-width="0.18" textLength="30.5" lengthAdjust="spacingAndGlyphs">MA</text>
<text x="211" y="445.2" font-size="25.4" font-weight="bold" fill="#f23645" text-anchor="start" stroke="#fff" stroke-width="0.18" textLength="82" lengthAdjust="spacingAndGlyphs">148.65</text>
<text x="539.8" y="529.7" font-size="25.4" font-weight="bold" fill="#f23645" text-anchor="start" stroke="#fff" stroke-width="0.18" textLength="81.3" lengthAdjust="spacingAndGlyphs">146.00</text>
<text x="775.8" y="742.7" font-size="25.4" font-weight="bold" fill="#f23645" text-anchor="start" stroke="#fff" stroke-width="0.18" textLength="81.3" lengthAdjust="spacingAndGlyphs">140.00</text>
<text x="1477.8" y="285.2" font-size="25.4" font-weight="bold" fill="#f23645" text-anchor="start" stroke="#fff" stroke-width="0.18" textLength="80.3" lengthAdjust="spacingAndGlyphs">154.00</text>
<text x="1477.8" y="315.2" font-size="25.4" font-weight="bold" fill="#f23645" text-anchor="start" stroke="#fff" stroke-width="0.18" textLength="80.3" lengthAdjust="spacingAndGlyphs">153.00</text>
<text x="1477.8" y="345.7" font-size="25.4" font-weight="bold" fill="#f23645" text-anchor="start" stroke="#fff" stroke-width="0.18" textLength="80.3" lengthAdjust="spacingAndGlyphs">152.00</text>
<text x="1477.8" y="376.2" font-size="25.4" font-weight="bold" fill="#f23645" text-anchor="start" stroke="#fff" stroke-width="0.18" textLength="80.3" lengthAdjust="spacingAndGlyphs">151.00</text>
<text x="1477.8" y="406.2" font-size="25.4" font-weight="bold" fill="#f23645" text-anchor="start" stroke="#fff" stroke-width="0.18" textLength="80.3" lengthAdjust="spacingAndGlyphs">150.00</text>
<text x="1477.8" y="438.2" font-size="25.4" font-weight="bold" fill="#f23645" text-anchor="start" stroke="#fff" stroke-width="0.18" textLength="80.3" lengthAdjust="spacingAndGlyphs">149.00</text>
<text x="1467.5" y="515.2" font-size="25.4" font-weight="bold" fill="#f23645" text-anchor="start" stroke="#fff" stroke-width="0.18" textLength="81" lengthAdjust="spacingAndGlyphs">146.50</text>
<g stroke="#f23645" stroke-width="5.5" stroke-linecap="round" stroke-linejoin="round" fill="none"><path d="M1470.5 68.5 L1492 90.5"/><path d="M1494 69.5 L1493.5 91.5 L1471.5 90.5"/></g>
<g stroke="#40444f" stroke-width="1" shape-rendering="crispEdges"><line x1="1572.5" x2="1572.5" y1="34" y2="808"/><line x1="13" x2="1649" y1="774.5" y2="774.5"/></g>
<g clip-path="url(#axisclip)" font-size="14" fill="#4a4e5c">
<text x="1583.8" y="773.3" textLength="52.6" lengthAdjust="spacingAndGlyphs">138.000</text>
<text x="1583.8" y="711.3" textLength="52.6" lengthAdjust="spacingAndGlyphs">140.000</text>
<text x="1583.8" y="650.3" textLength="52.6" lengthAdjust="spacingAndGlyphs">142.000</text>
<text x="1583.8" y="588.3" textLength="52.6" lengthAdjust="spacingAndGlyphs">144.000</text>
<text x="1583.8" y="527.3" textLength="52.6" lengthAdjust="spacingAndGlyphs">146.000</text>
<text x="1583.8" y="466.3" textLength="52.6" lengthAdjust="spacingAndGlyphs">148.000</text>
<text x="1583.8" y="404.3" textLength="52.6" lengthAdjust="spacingAndGlyphs">150.000</text>
<text x="1583.8" y="343.3" textLength="52.6" lengthAdjust="spacingAndGlyphs">152.000</text>
<text x="1583.8" y="281.3" textLength="52.6" lengthAdjust="spacingAndGlyphs">154.000</text>
<text x="1583.8" y="220.3" textLength="52.6" lengthAdjust="spacingAndGlyphs">156.000</text>
<text x="1583.8" y="159.3" textLength="52.6" lengthAdjust="spacingAndGlyphs">158.000</text>
<text x="1583.8" y="97.3" textLength="52.6" lengthAdjust="spacingAndGlyphs">160.000</text>
</g>
<path d="M1573 341.2 H1642 Q1644 341.2 1644 343.2 V359.7 Q1644 361.7 1642 361.7 H1573 Z" fill="#f23645"/>
<text x="1584.8" y="357.1" font-size="14.2" fill="#fff" stroke="#fff" stroke-width="0.25" textLength="52.2" lengthAdjust="spacingAndGlyphs">151.560</text>
<path d="M1573 401.2 H1642 Q1644 401.2 1644 403.2 V419.7 Q1644 421.7 1642 421.7 H1573 Z" fill="#2962ff"/>
<text x="1584.8" y="417.1" font-size="14.2" fill="#fff" stroke="#fff" stroke-width="0.25" textLength="52.2" lengthAdjust="spacingAndGlyphs">149.615</text>
<path d="M1573 451.2 H1642 Q1644 451.2 1644 453.2 V469.7 Q1644 471.7 1642 471.7 H1573 Z" fill="#2962ff"/>
<text x="1584.8" y="467.1" font-size="14.2" fill="#fff" stroke="#fff" stroke-width="0.25" textLength="52.2" lengthAdjust="spacingAndGlyphs">147.987</text>
<rect x="1577.2" y="39.1" width="68.3" height="32" rx="4.5" fill="#fff" stroke="#f1f2f4" stroke-width="1.5"/>
<text x="1588" y="60.2" font-size="14.3" fill="#2a2e39" textLength="23.5" lengthAdjust="spacingAndGlyphs">JPY</text>
<text x="89.6" y="796.8" font-size="14" fill="#4a4e5c" text-anchor="middle" font-weight="normal">Oct</text>
<text x="207.3" y="796.8" font-size="14" fill="#4a4e5c" text-anchor="middle" font-weight="normal">Nov</text>
<text x="314.8" y="796.8" font-size="14" fill="#4a4e5c" text-anchor="middle" font-weight="normal">Dec</text>
<text x="422.4" y="796.8" font-size="14" fill="#4a4e5c" text-anchor="middle" font-weight="bold" textLength="34" lengthAdjust="spacingAndGlyphs">2025</text>
<text x="535.0" y="796.8" font-size="14" fill="#4a4e5c" text-anchor="middle" font-weight="normal">Feb</text>
<text x="637.4" y="796.8" font-size="14" fill="#4a4e5c" text-anchor="middle" font-weight="normal">Mar</text>
<text x="744.9" y="796.8" font-size="14" fill="#4a4e5c" text-anchor="middle" font-weight="normal">Apr</text>
<text x="857.6" y="796.8" font-size="14" fill="#4a4e5c" text-anchor="middle" font-weight="normal">May</text>
<text x="970.2" y="796.8" font-size="14" fill="#4a4e5c" text-anchor="middle" font-weight="normal">Jun</text>
<text x="1077.7" y="796.8" font-size="14" fill="#4a4e5c" text-anchor="middle" font-weight="normal">Jul</text>
<text x="1195.5" y="796.8" font-size="14" fill="#4a4e5c" text-anchor="middle" font-weight="normal">Aug</text>
<text x="1303.0" y="796.8" font-size="14" fill="#4a4e5c" text-anchor="middle" font-weight="normal">Sep</text>
<text x="1415.6" y="796.8" font-size="14" fill="#4a4e5c" text-anchor="middle" font-weight="normal">Oct</text>
<text x="1533.4" y="796.8" font-size="14" fill="#4a4e5c" text-anchor="middle" font-weight="normal">Nov</text>
<g fill="#111318"><path d="M15.3 836.9 H30.5 V854.7 H22.8 V843.9 H15.3 Z"/><circle cx="36.9" cy="839.9" r="3.3"/><path d="M42.7 836.9 H52.6 L45.5 854.7 H37.1 Z"/></g>
<text x="62" y="854.7" font-size="25" font-weight="bold" fill="#111318" textLength="151" lengthAdjust="spacingAndGlyphs">TradingView</text>
</svg></body></html>
